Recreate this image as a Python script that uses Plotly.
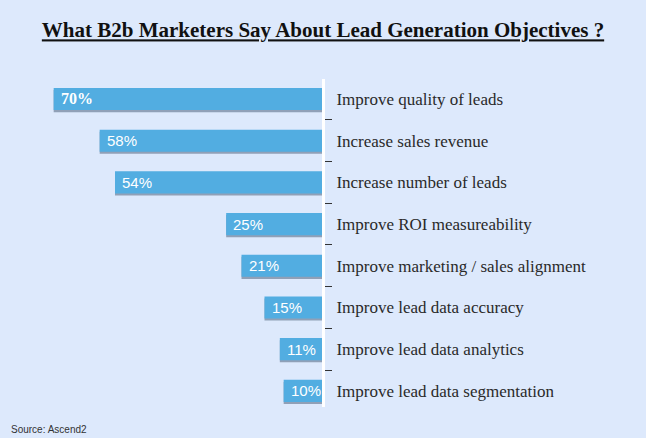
import plotly.graph_objects as go

categories = [
    "Improve quality of leads",
    "Increase sales revenue",
    "Increase number of leads",
    "Improve ROI measureability",
    "Improve marketing / sales alignment",
    "Improve lead data accuracy",
    "Improve lead data analytics",
    "Improve lead data segmentation",
]
values = [70, 58, 54, 25, 21, 15, 11, 10]
value_labels = [f"{v}%" for v in values]

title_text = "What B2b Marketers Say About Lead Generation Objectives ?"
source_text = "Source: Ascend2"

BG = "#dde9fc"
BAR = "#52ade1"
W, H = 646, 438

fig = go.Figure()

# subtle shadow under the bars
fig.add_trace(go.Bar(
    x=values, y=categories, orientation="h",
    marker=dict(color="rgba(50,70,100,0.45)", line=dict(width=0)),
    width=0.53, offset=-0.265 + 0.05,
    hoverinfo="skip", showlegend=False,
))
fig.add_trace(go.Bar(
    x=values, y=categories, orientation="h",
    marker=dict(color=BAR, line=dict(width=0)),
    width=0.53, offset=-0.265,
    showlegend=False,
))

annotations = []
for i, (c, v, lab) in enumerate(zip(categories, values, value_labels)):
    if i == 0:
        txt = f"<b>{lab}</b>"
        fnt = dict(family="Liberation Serif", size=16, color="white")
    else:
        txt = lab
        fnt = dict(family="Liberation Sans", size=15, color="white")
    annotations.append(dict(
        x=v, y=c, xref="x", yref="y", text=txt, showarrow=False,
        xanchor="left", yanchor="middle", xshift=5, font=fnt,
    ))

annotations.append(dict(
    x=9 / W, y=1 - 429 / H, xref="paper", yref="paper", text=source_text,
    showarrow=False, xanchor="left", yanchor="middle",
    font=dict(family="Liberation Sans", size=10, color="#333333"),
))

fig.update_layout(
    width=W, height=H,
    paper_bgcolor=BG, plot_bgcolor=BG,
    margin=dict(l=0, r=0, t=0, b=0),
    barmode="overlay",
    title=dict(
        text=f"<b><u>{title_text}</u></b>",
        x=0.5, xanchor="center", xref="container",
        y=1 - 30 / H, yanchor="middle", yref="container",
        font=dict(family="Liberation Serif", size=21, color="#111111"),
    ),
    xaxis=dict(
        range=[84, 0], domain=[0, 322 / W],
        showgrid=False, zeroline=False, showticklabels=False, ticks="",
        showline=False,
    ),
    yaxis=dict(
        type="category", categoryorder="array", categoryarray=categories,
        range=[7.38, -0.47], domain=[(H - 406.7) / H, (H - 79.4) / H],
        side="right", anchor="x",
        showline=True, linecolor="white", linewidth=3,
        ticks="outside", tickson="boundaries", ticklen=7, tickwidth=1,
        tickcolor="#333333", showgrid=False, ticklabelstandoff=8,
        tickfont=dict(family="Liberation Serif", size=17, color="#2a2a2a"),
    ),
    annotations=annotations,
)

fig.write_html(
    "out.html",
    config={"displayModeBar": False},
    post_script="document.body.style.margin='0px';document.body.style.overflow='hidden';",
)
